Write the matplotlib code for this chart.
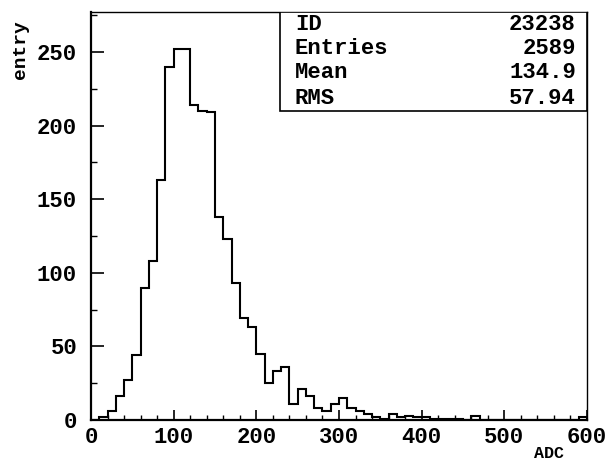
import numpy as np
import matplotlib
matplotlib.use("Agg")
import matplotlib.pyplot as plt
from matplotlib.ticker import MultipleLocator

# --- data (ADC, 10-unit bins) ---
bin_lo = 0
bin_hi = 600
bin_width = 10
counts = [0, 2, 6, 16, 27, 44, 90, 108, 163, 240,
          252, 252, 214, 210, 209, 138, 123, 93, 69, 63,
          45, 25, 33, 36, 11, 21, 16, 8, 6, 11,
          15, 8, 6, 4, 2, 1, 4, 2, 3, 2,
          2, 1, 1, 1, 1, 0, 3, 0, 0, 0,
          0, 0, 0, 0, 0, 0, 0, 0, 0, 2]

stat_names = ["ID", "Entries", "Mean", "RMS"]
stat_values = ["23238", "2589", "134.9", "57.94"]

x_label = "ADC"
y_label = "entry"

FONT = ["Liberation Mono", "DejaVu Sans Mono"]

fig = plt.figure(figsize=(6.12, 4.63), dpi=100)
ax = fig.add_axes([91 / 612, 43 / 463, 496 / 612, 408 / 463])

edges = np.arange(bin_lo, bin_hi + bin_width, bin_width)
ax.stairs(counts, edges, color="black", linewidth=1.5, baseline=0)

ax.set_xlim(bin_lo, bin_hi)
ax.set_ylim(0, max(counts) * 1.1)

# thick left/bottom frame, thin top/right like the PAW output
for side in ["left", "bottom"]:
    ax.spines[side].set_linewidth(1.6)
for side in ["top", "right"]:
    ax.spines[side].set_linewidth(1.0)

ax.xaxis.set_major_locator(MultipleLocator(100))
ax.xaxis.set_minor_locator(MultipleLocator(20))
ax.yaxis.set_major_locator(MultipleLocator(50))
ax.yaxis.set_minor_locator(MultipleLocator(25))
ax.tick_params(axis="both", which="both", direction="in", top=False, right=False)
ax.tick_params(axis="x", which="major", length=7, width=1.2, pad=5)
ax.tick_params(axis="x", which="minor", length=3.5, width=1.0)
ax.tick_params(axis="y", which="major", length=9, width=1.2, pad=10)
ax.tick_params(axis="y", which="minor", length=4.5, width=1.0)

for lab in ax.get_xticklabels() + ax.get_yticklabels():
    lab.set_family(FONT)
    lab.set_fontweight("bold")
    lab.set_fontsize(16)

# statistics box
box_left = (280 - 91) / 496
box_bottom = (420 - 111) / 408
ax.add_patch(plt.Rectangle((box_left, box_bottom), 1 - box_left, 1 - box_bottom,
                           transform=ax.transAxes, facecolor="white",
                           edgecolor="black", linewidth=1.2, zorder=5))
row_y = [24, 48, 73, 98]
for name, val, py in zip(stat_names, stat_values, row_y):
    fig.text(295 / 612, 1 - py / 463, name, family=FONT, fontweight="bold",
             fontsize=16, ha="left", va="center", zorder=6)
    fig.text(576 / 612, 1 - py / 463, val, family=FONT, fontweight="bold",
             fontsize=16, ha="right", va="center", zorder=6)

fig.text(21 / 612, 1 - 50 / 463, y_label, family=FONT, fontweight="bold",
         fontsize=14, rotation=90, ha="center", va="center")
fig.text(549 / 612, 1 - 454 / 463, x_label, family=FONT, fontweight="bold",
         fontsize=12, ha="center", va="center")

fig.savefig("out.png", dpi=100)
